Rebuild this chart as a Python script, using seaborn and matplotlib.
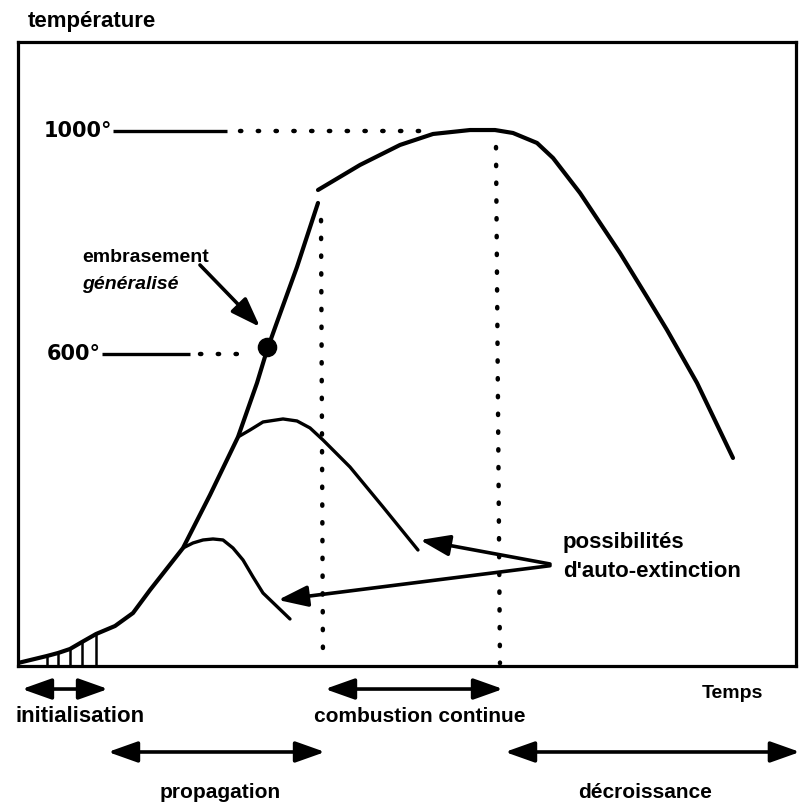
import numpy as np
import matplotlib
matplotlib.use("Agg")
import matplotlib.pyplot as plt
import seaborn as sns

# =========================
# DATA (time in arbitrary units 0-100, temperature in degrees)
# =========================
rise_t = [0, 3.73, 5.14, 6.68, 8.23, 10.03, 12.47, 14.78, 16.97, 21.21, 24.68,
          28.28, 30.72, 32.01, 33.16, 35.86, 38.56]
rise_T = [45.4, 58.0, 63.3, 70.5, 83.1, 97.4, 111.8, 135.1, 176.4, 251.8, 347.0,
          451.1, 548.0, 607.2, 652.1, 756.2, 871.1]

plateau_t = [38.56, 43.96, 49.10, 53.34, 58.10, 61.31, 63.62, 66.71, 68.77, 72.24,
             77.38, 80.85, 83.42, 87.28, 91.90]
plateau_T = [894.4, 939.3, 975.2, 994.9, 1002.0, 1002.0, 996.7, 978.8, 951.8, 889.0,
             781.3, 702.4, 643.1, 548.0, 413.4]

big_bump_t = [28.28, 29.82, 31.49, 34.06, 35.86, 37.53, 39.20, 42.67, 46.92, 51.41]
big_bump_T = [451.1, 463.6, 478.0, 483.4, 479.8, 467.3, 445.7, 397.2, 325.4, 248.2]

small_bump_t = [21.21, 22.49, 23.78, 25.06, 26.35, 27.63, 28.92, 30.21, 31.49, 34.96]
small_bump_T = [251.8, 260.8, 266.2, 268.0, 266.2, 251.8, 230.3, 199.8, 171.0, 124.4]

hatch_t = [3.73, 5.14, 6.68, 8.23, 10.03]
hatch_T = [58.0, 63.3, 70.5, 83.1, 97.4]

flashover_t, flashover_T = 32.01, 612.0

# reference temperature markers: label, solid start/end, dotted start/end
ref_labels = ["1000°", "600°"]
ref_T = [1000, 600]
ref_solid = [(12.21, 26.86), (10.80, 22.11)]
ref_dotted = [(28.53, 52.57), (23.39, 29.82)]

# phase boundaries (dotted verticals)
bound_t = [(38.95, 39.20), (61.44, 61.95)]
bound_top = [840.6, 971.5]

# phases below the time axis
phase_names = ["initialisation", "propagation", "combustion continue", "décroissance"]
phase_start = [0.51, 11.57, 39.46, 62.60]
phase_end = [11.57, 39.46, 62.34, 100.50]
phase_row = [0, 1, 0, 1]
phase_text_t = [8.0, 25.96, 51.67, 80.6]
phase_size = [16, 15, 15, 15]

# =========================
# FIGURE
# =========================
sns.set_theme(style="white")
plt.rcParams["font.family"] = ["Liberation Sans", "DejaVu Sans"]
plt.rcParams["text.color"] = "black"

W, H = 801, 805
fig = plt.figure(figsize=(W / 100, H / 100), dpi=100)
ax = fig.add_axes([18 / W, (H - 666) / H, (796 - 18) / W, (666 - 42) / H])
ax.set_xlim(0, 100)
ax.set_ylim(40, 1160)
ax.set_xticks([])
ax.set_yticks([])
for s in ax.spines.values():
    s.set_linewidth(2.3)
    s.set_color("black")

# curves
curve_kw = dict(sort=False, estimator=None, color="black", ax=ax,
                solid_joinstyle="round", solid_capstyle="round")
sns.lineplot(x=rise_t, y=rise_T, lw=3.0, **curve_kw)
sns.lineplot(x=plateau_t, y=plateau_T, lw=3.0, **curve_kw)
sns.lineplot(x=big_bump_t, y=big_bump_T, lw=2.4, **curve_kw)
sns.lineplot(x=small_bump_t, y=small_bump_T, lw=2.4, **curve_kw)
ax.vlines(hatch_t, 40, hatch_T, color="black", lw=1.8)
sns.scatterplot(x=[flashover_t], y=[flashover_T], s=170, color="black",
                edgecolor="black", ax=ax, zorder=5)

dot_style = dict(color="black", lw=3.2, linestyle=(0, (0.3, 3.7)), dash_capstyle="round")

# reference temperatures
for lab, T, (s0, s1), (d0, d1) in zip(ref_labels, ref_T, ref_solid, ref_dotted):
    ax.plot([s0, s1], [T, T], color="black", lw=2.4, solid_capstyle="butt")
    ax.plot([d0, d1], [T, T], **dot_style)
    ax.text(s0 - 0.1, T, lab, ha="right", va="center", fontsize=15,
            fontweight="bold", family=["DejaVu Sans"])

# boundaries
for (b0, b1), top in zip(bound_t, bound_top):
    ax.plot([b0, b1], [top, 45], **dot_style)

# annotations inside
arrow_in = dict(arrowstyle="-|>,head_length=0.9,head_width=0.32", color="black",
                lw=2.6, mutation_scale=20, shrinkA=0, shrinkB=0)
ax.annotate("", xy=(31.11, 648.5), xytext=(23.39, 759.8), arrowprops=arrow_in)
ax.text(8.23, 766, "embrasement", ha="left", va="baseline", fontsize=14, fontweight="bold")
ax.text(8.23, 716, "généralisé", ha="left", va="baseline", fontsize=14,
        fontweight="bold", style="italic")

ax.annotate("", xy=(51.67, 266.2), xytext=(68.38, 223.1), arrowprops=arrow_in)
ax.annotate("", xy=(33.42, 158.5), xytext=(68.38, 220.0), arrowprops=arrow_in)
ax.text(70.05, 252, "possibilités", ha="left", va="baseline", fontsize=16, fontweight="bold")
ax.text(70.05, 200, "d'auto-extinction", ha="left", va="baseline", fontsize=16, fontweight="bold")

# axis titles
ax.text(1.29, 1.024, "température", transform=ax.get_xaxis_transform(),
        ha="left", va="baseline", fontsize=16, fontweight="bold")
ax.text(91.77, -0.0513, "Temps", transform=ax.get_xaxis_transform(),
        ha="center", va="baseline", fontsize=14, fontweight="bold")

# phases
row_arrow_y = [-0.0369, -0.1378]
row_text_y = [-0.0897, -0.2115]
arrow_out = dict(arrowstyle="<|-|>,head_length=0.9,head_width=0.32", color="black",
                 lw=2.6, mutation_scale=20, shrinkA=0, shrinkB=0)
xt = ax.get_xaxis_transform()
for name, a, b, r, tx, fs in zip(phase_names, phase_start, phase_end, phase_row,
                                 phase_text_t, phase_size):
    ax.annotate("", xy=(b, row_arrow_y[r]), xytext=(a, row_arrow_y[r]),
                xycoords=xt, textcoords=xt, arrowprops=arrow_out, annotation_clip=False)
    ax.text(tx, row_text_y[r], name, transform=xt, ha="center", va="baseline",
            fontsize=fs, fontweight="bold")

fig.savefig("out.png", dpi=100)
